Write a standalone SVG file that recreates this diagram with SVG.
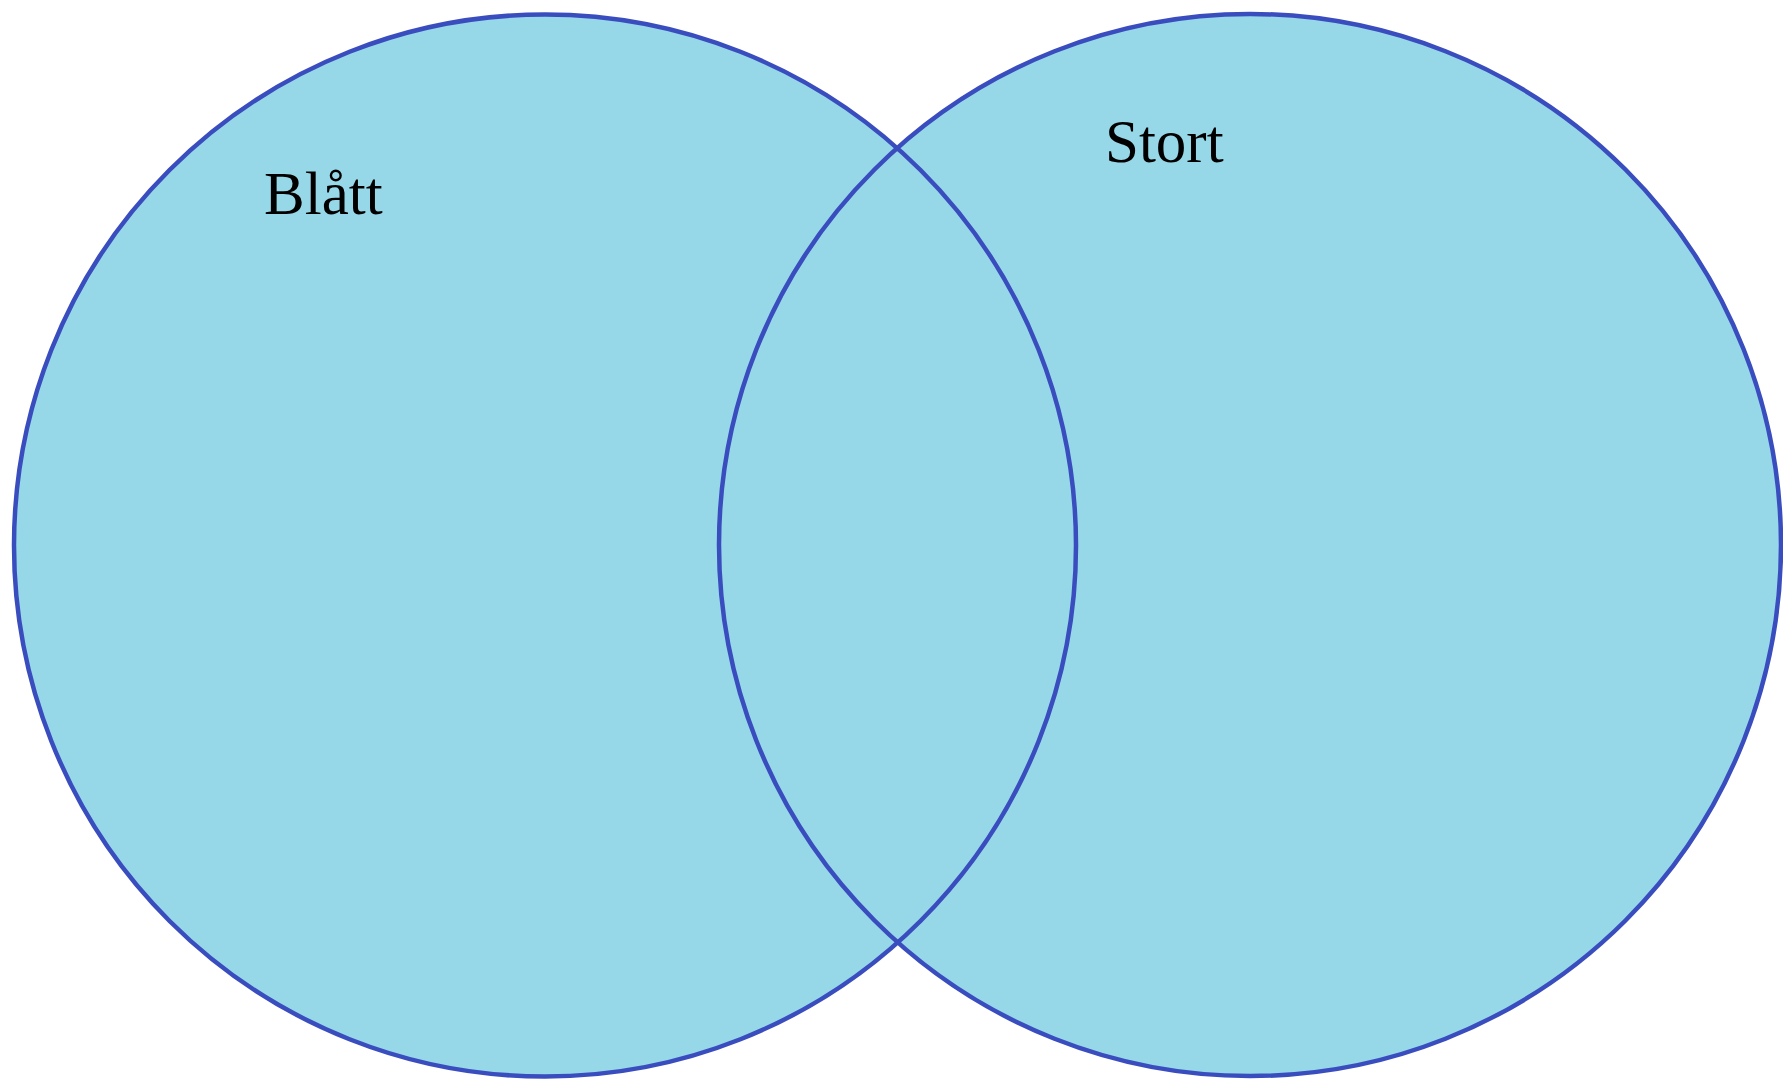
<svg xmlns="http://www.w3.org/2000/svg" width="1783" height="1081" viewBox="0 0 1783 1081">
<style>
.fill{fill:#97d8e8;stroke:none}
.ring{fill:none;stroke:#3a4dbf;stroke-width:4.5}
.lbl{font-family:"Liberation Serif","Times New Roman",serif;font-size:61px;fill:#000}
</style>
<rect width="1783" height="1081" fill="#ffffff"/>
<g id="set-blatt">
<circle class="fill" cx="545" cy="545.5" r="531"/>
</g>
<g id="set-stort">
<circle class="fill" cx="1250" cy="545" r="531"/>
</g>
<g id="outlines">
<circle class="ring" cx="545" cy="545.5" r="531"/>
<circle class="ring" cx="1250" cy="545" r="531"/>
</g>
<g id="labels">
<text class="lbl" x="264" y="214">Blått</text>
<text class="lbl" x="1105" y="162">Stort</text>
</g>
</svg>
